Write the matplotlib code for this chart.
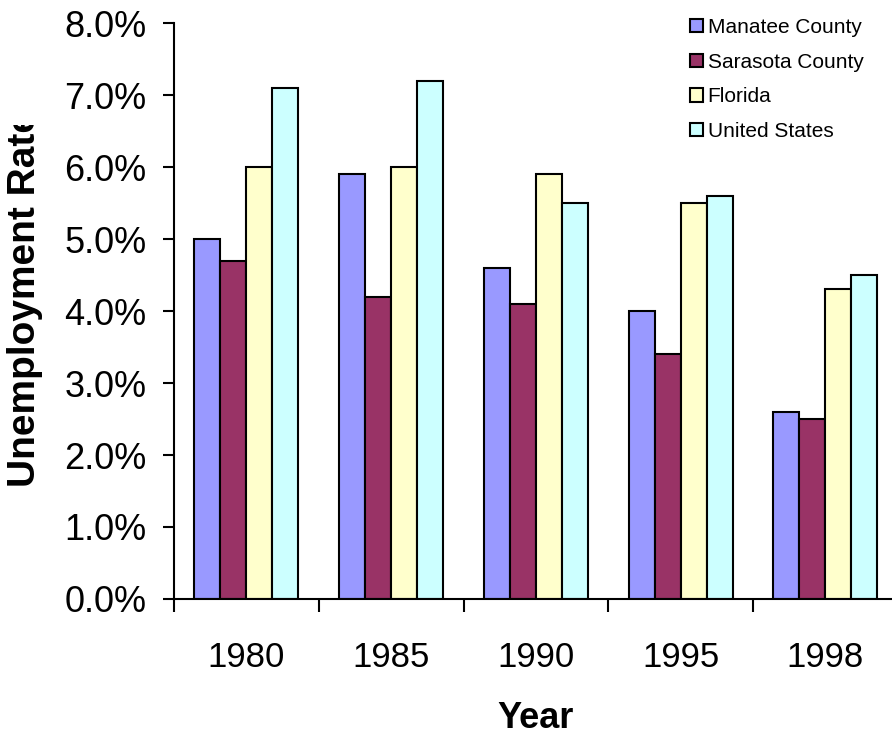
import numpy as np
import matplotlib
matplotlib.use("Agg")
import matplotlib.pyplot as plt
from matplotlib.transforms import Bbox

plt.rcParams['font.family'] = ['Liberation Sans', 'DejaVu Sans']

# data
years = ['1980', '1985', '1990', '1995', '1998']
series = ['Manatee County', 'Sarasota County', 'Florida', 'United States']
manatee = [5.0, 5.9, 4.6, 4.0, 2.6]
sarasota = [4.7, 4.2, 4.1, 3.4, 2.5]
florida = [6.0, 6.0, 5.9, 5.5, 4.3]
united_states = [7.1, 7.2, 5.5, 5.6, 4.5]
colors = ['#9999FF', '#993366', '#FFFFCC', '#CCFFFF']

W, H = 892, 735
fig = plt.figure(figsize=(W / 100, H / 100), dpi=100)
# axes spans past the right edge, like the cropped original
left, right, bottom, top = 174, 897.75, 599, 23
ax = fig.add_axes([left / W, 1 - bottom / H, (right - left) / W, (bottom - top) / H])

x = np.arange(len(years))
bw = 0.18
offsets = [-1.5 * bw, -0.5 * bw, 0.5 * bw, 1.5 * bw]
handles = []
for vals, off, c, name in zip([manatee, sarasota, florida, united_states], offsets, colors, series):
    b = ax.bar(x + off, vals, bw, color=c, edgecolor='black', linewidth=1.5, label=name)
    handles.append(b)

ax.set_xlim(-0.5, len(years) - 0.5)
ax.set_ylim(0, 8)
ax.set_yticks(np.arange(0, 9, 1))
ax.set_yticklabels([f'{v:.1f}%' for v in np.arange(0, 9, 1)])
ax.tick_params(axis='y', direction='out', length=8, width=1.5, pad=12, labelsize=26)

# major ticks at category borders, labels at the centres
ax.set_xticks(np.arange(-0.5, len(years), 1))
ax.set_xticklabels([])
ax.set_xticks(x, minor=True)
ax.set_xticklabels(years, minor=True)
ax.tick_params(axis='x', which='major', direction='out', length=9, width=1.5)
ax.tick_params(axis='x', which='minor', length=0, pad=30, labelsize=25)

for s in ['top', 'right']:
    ax.spines[s].set_visible(False)
for s in ['left', 'bottom']:
    ax.spines[s].set_linewidth(1.5)

ax.set_xlabel('Year', fontsize=26, fontweight='bold')
ax.xaxis.set_label_coords(0.5, -(718 - 599) / (bottom - top))
ax.xaxis.label.set_va('center')

# y label is cut at the top in the original
ylab = fig.text(25 / W, 1 - 487 / H, 'Unemployment Rate', rotation=90,
                ha='center', va='bottom', fontsize=28, fontweight='bold')
ylab.set_clip_box(Bbox([[0, 0], [W, H - 125]]))
ylab.set_clip_on(True)

leg = ax.legend(handles=handles, loc='upper left', bbox_to_anchor=(690 / W, 1 - 18 / H),
                bbox_transform=fig.transFigure, frameon=False, fontsize=15,
                handlelength=0.6, handleheight=0.6, handletextpad=0.25,
                labelspacing=0.75, borderpad=0, borderaxespad=0)

fig.savefig('out.png', dpi=100)
